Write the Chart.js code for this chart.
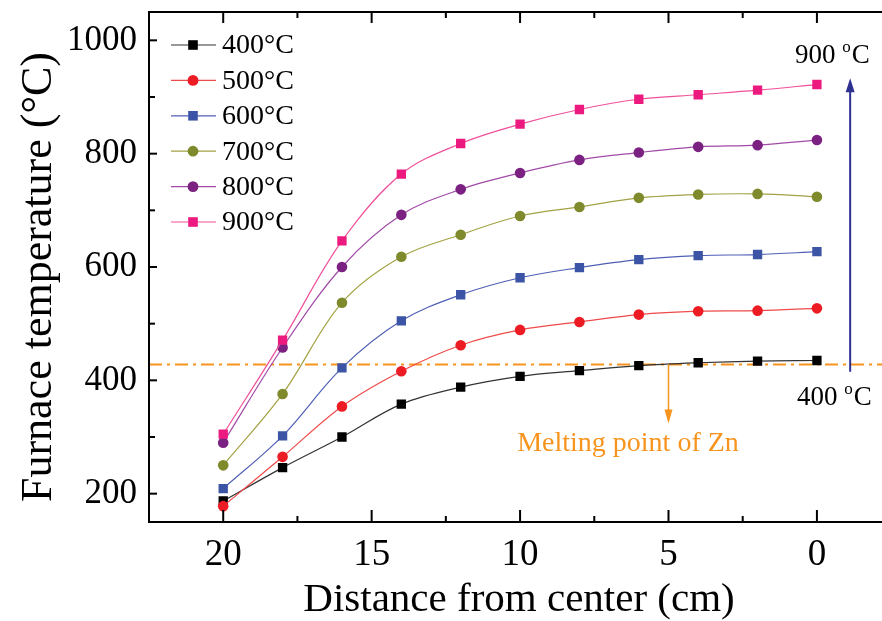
<!DOCTYPE html>
<html>
<head>
<meta charset="utf-8">
<script src="https://cdn.jsdelivr.net/npm/chart.js@4.4.1/dist/chart.umd.min.js"></script>
<style>
  html, body { margin: 0; padding: 0; background: #fff; overflow: hidden; }
</style>
</head>
<body>
<canvas id="chart" width="882" height="621"></canvas>
<script>
// distance from furnace center (cm)
const distances = [20, 18, 16, 14, 12, 10, 8, 6, 4, 2, 0]
const seriesLabels = ['400°C', '500°C', '600°C', '700°C', '800°C', '900°C']
const temp400 = [187, 246, 300, 358, 388, 407, 417, 426, 431, 434, 435]
const temp500 = [178, 265, 354, 416, 462, 489, 503, 516, 522, 523, 527]
const temp600 = [209, 302, 422, 505, 551, 581, 599, 613, 620, 622, 627]
const temp700 = [250, 376, 537, 618, 657, 690, 706, 722, 728, 729, 724]
const temp800 = [290, 458, 600, 692, 737, 766, 789, 802, 812, 815, 824]
const temp900 = [305, 471, 646, 764, 818, 852, 878, 896, 904, 912, 922]
const xTickLabels = [20, 15, 10, 5, 0]
const xMinorTicks = [17.5, 12.5, 7.5, 2.5]
const yTickLabels = [200, 400, 600, 800, 1000]
const yMinorTicks = [300, 500, 700, 900]
const meltingPoint = 428

const serif = '"Liberation Serif", "Times New Roman", serif'
const markerColors = ['#000000', '#ed1c24', '#3b54a5', '#7f8a2c', '#7a2181', '#ec1a7f']
const lineColors = ['#333333', '#f04a4a', '#4f5fb5', '#a3a244', '#a24aa8', '#f0509a']
const markerStyles = ['rect', 'circle', 'rect', 'circle', 'circle', 'rect']

const allTemps = [temp400, temp500, temp600, temp700, temp800, temp900]

const datasets = allTemps.map((temps, i) => ({
  label: seriesLabels[i],
  data: distances.map((d, j) => ({ x: d, y: temps[j] })),
  borderColor: lineColors[i],
  borderWidth: 1.2,
  backgroundColor: markerColors[i],
  pointBackgroundColor: markerColors[i],
  pointBorderWidth: 0,
  pointStyle: markerStyles[i],
  pointRadius: markerStyles[i] === 'rect' ? 6.6 : 5.3,
  tension: 0.35,
  order: 6 - i
}))

datasets.push({
  label: 'melting',
  data: [{ x: 22.5, y: meltingPoint }, { x: -2.3, y: meltingPoint }],
  borderColor: '#f7941d',
  borderWidth: 2,
  borderDash: [13, 5, 3, 5],
  pointRadius: 0,
  clip: false,
  order: 20
})

function drawMarker(ctx, style, x, y, color) {
  ctx.fillStyle = color
  ctx.beginPath()
  if (style === 'rect') ctx.rect(x - 4.8, y - 4.8, 9.6, 9.6)
  else ctx.arc(x, y, 5.4, 0, Math.PI * 2)
  ctx.fill()
}

function arrow(ctx, x0, y0, x1, y1, color, width, headLen, headW) {
  const ang = Math.atan2(y1 - y0, x1 - x0)
  ctx.strokeStyle = color
  ctx.fillStyle = color
  ctx.lineWidth = width
  ctx.beginPath()
  ctx.moveTo(x0, y0)
  ctx.lineTo(x1 - Math.cos(ang) * headLen * 0.8, y1 - Math.sin(ang) * headLen * 0.8)
  ctx.stroke()
  ctx.beginPath()
  ctx.moveTo(x1, y1)
  ctx.lineTo(x1 - Math.cos(ang) * headLen - Math.sin(ang) * headW / 2, y1 - Math.sin(ang) * headLen + Math.cos(ang) * headW / 2)
  ctx.lineTo(x1 - Math.cos(ang) * headLen + Math.sin(ang) * headW / 2, y1 - Math.sin(ang) * headLen - Math.cos(ang) * headW / 2)
  ctx.closePath()
  ctx.fill()
}

function degLabel(ctx, x, y, num) {
  ctx.fillStyle = '#000'
  ctx.textAlign = 'left'
  ctx.textBaseline = 'alphabetic'
  ctx.font = '27px ' + serif
  const w1 = ctx.measureText(num + ' ').width
  ctx.fillText(num + ' ', x, y)
  ctx.font = '17px ' + serif
  const w2 = ctx.measureText('o').width
  ctx.fillText('o', x + w1, y - 11)
  ctx.font = '27px ' + serif
  ctx.fillText('C', x + w1 + w2 + 1, y)
}

const extras = {
  id: 'extras',
  afterDraw(chart) {
    const { ctx, chartArea: a, scales: { x, y } } = chart
    const W = chart.width
    ctx.save()
    ctx.strokeStyle = '#000'
    ctx.lineWidth = 2
    const seg = (x0, y0, x1, y1) => { ctx.beginPath(); ctx.moveTo(x0, y0); ctx.lineTo(x1, y1); ctx.stroke() }
    // frame (right axis lies just outside the picture)
    seg(a.left, a.top, W, a.top)
    seg(a.left, a.top - 1, a.left, a.bottom + 1)
    seg(a.left - 1, a.bottom, W, a.bottom)
    // inward ticks
    xTickLabels.forEach(v => { const p = x.getPixelForValue(v); seg(p, a.bottom, p, a.bottom - 12); seg(p, a.top, p, a.top + 11) })
    xMinorTicks.forEach(v => { const p = x.getPixelForValue(v); seg(p, a.bottom, p, a.bottom - 6); seg(p, a.top, p, a.top + 6) })
    yTickLabels.forEach(v => { const p = y.getPixelForValue(v); seg(a.left, p, a.left + 8, p) })
    yMinorTicks.forEach(v => { const p = y.getPixelForValue(v); seg(a.left, p, a.left + 6, p) })

    // axis titles
    ctx.fillStyle = '#000'
    ctx.textAlign = 'center'
    ctx.textBaseline = 'alphabetic'
    ctx.font = '41px ' + serif
    ctx.fillText('Distance from center (cm)', 519, 611)
    ctx.save()
    ctx.translate(51, 277)
    ctx.rotate(-Math.PI / 2)
    ctx.font = '44px ' + serif
    ctx.fillText('Furnace temperature (°C)', 0, 0)
    ctx.restore()

    // legend
    chart.data.datasets.slice(0, 6).forEach((ds, i) => {
      const ly = 45 + i * 35.4
      ctx.strokeStyle = ds.borderColor
      ctx.lineWidth = 1.2
      seg(171, ly, 216, ly)
      drawMarker(ctx, markerStyles[i], 193, ly, markerColors[i])
      ctx.fillStyle = '#000'
      ctx.font = '28px ' + serif
      ctx.textAlign = 'left'
      ctx.textBaseline = 'middle'
      ctx.fillText(ds.label, 222, ly + 1)
    })

    // melting point arrow and text
    const mx = x.getPixelForValue(5)
    const my = y.getPixelForValue(meltingPoint)
    arrow(ctx, mx, my, mx, my + 59, '#f7941d', 1.5, 14, 8)
    ctx.fillStyle = '#f7941d'
    ctx.font = '28px ' + serif
    ctx.textAlign = 'center'
    ctx.textBaseline = 'alphabetic'
    ctx.fillText('Melting point of Zn', 628, 451)

    // furnace setpoint arrow
    const bx = x.getPixelForValue(-1.12)
    arrow(ctx, bx, y.getPixelForValue(415), bx, y.getPixelForValue(933), '#2e3192', 2, 14, 9)
    degLabel(ctx, 795, 63, '900')
    degLabel(ctx, 797, 405, '400')
    ctx.restore()
  }
}

new Chart(document.getElementById('chart'), {
  type: 'line',
  data: { datasets },
  options: {
    responsive: false,
    animation: false,
    layout: { padding: { top: 12, right: 0, bottom: 0, left: 0 } },
    plugins: { legend: { display: false }, tooltip: { enabled: false } },
    scales: {
      x: {
        type: 'linear',
        reverse: true,
        min: -1.97,
        max: 22.5,
        afterFit: s => { s.height = 99; s.paddingLeft = 0; s.paddingRight = 0 },
        afterBuildTicks: s => { s.ticks = [...xTickLabels, ...xMinorTicks].sort((p, q) => q - p).map(v => ({ value: v })) },
        grid: { display: false, drawTicks: false },
        border: { display: false },
        ticks: {
          autoSkip: false,
          maxRotation: 0,
          padding: 11,
          color: '#000',
          font: { family: serif, size: 37 },
          callback: v => xTickLabels.includes(v) ? String(v) : ''
        }
      },
      y: {
        type: 'linear',
        min: 150,
        max: 1050,
        afterFit: s => { s.width = 149; s.paddingTop = 0; s.paddingBottom = 0 },
        afterBuildTicks: s => { s.ticks = [...yTickLabels, ...yMinorTicks].sort((p, q) => p - q).map(v => ({ value: v })) },
        grid: { display: false, drawTicks: false },
        border: { display: false },
        ticks: {
          autoSkip: false,
          padding: 12,
          color: '#000',
          font: { family: serif, size: 35 },
          callback: v => yTickLabels.includes(v) ? String(v) : ''
        }
      }
    }
  },
  plugins: [extras]
})
</script>
</body>
</html>
